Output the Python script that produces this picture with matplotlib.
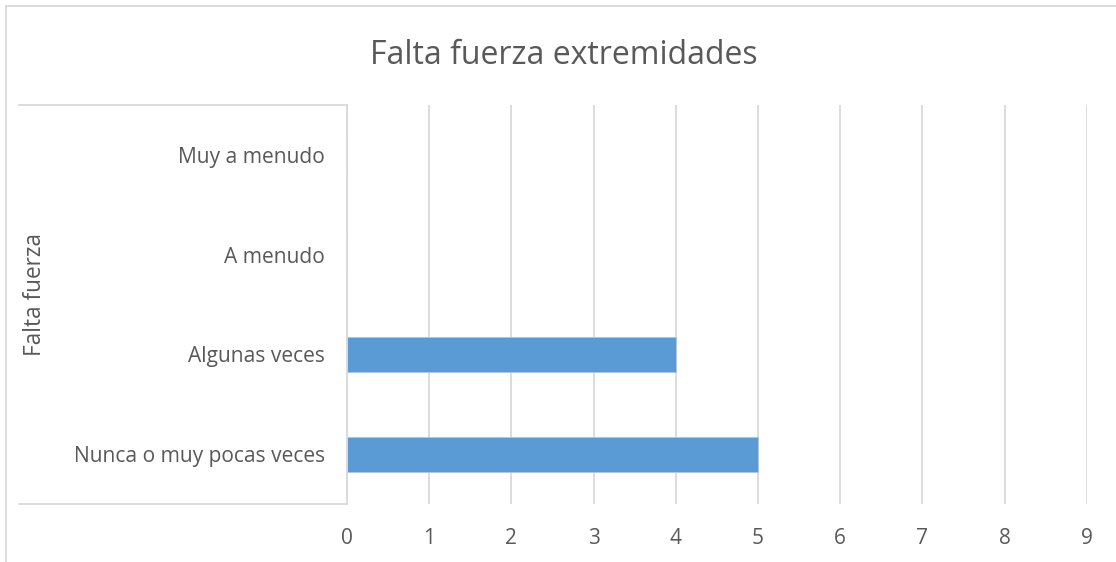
import matplotlib
matplotlib.use("Agg")
import matplotlib.pyplot as plt
from matplotlib.lines import Line2D

categories = ["Nunca o muy pocas veces", "Algunas veces", "A menudo", "Muy a menudo"]
values = [5, 4, 0, 0]
x_ticks = [0, 1, 2, 3, 4, 5, 6, 7, 8, 9]
title = "Falta fuerza extremidades"
group_label = "Falta fuerza"

text_color = "#595959"
grid_color = "#D9D9D9"
bar_color = "#5B9BD5"

plt.rcParams["font.family"] = ["Open Sans", "DejaVu Sans"]

W, H = 1116, 562
fig = plt.figure(figsize=(W / 100, H / 100), dpi=100)

# plot area in pixel coordinates
left_px, right_px, top_px, bottom_px = 347, 1086.7, 105, 504
ax = fig.add_axes([left_px / W, 1 - bottom_px / H,
                   (right_px - left_px) / W, (bottom_px - top_px) / H])

ypos = list(range(len(categories)))
ax.barh(ypos, values, height=0.35, color=bar_color, edgecolor="#A9C8EA", linewidth=0.6, zorder=3)

ax.set_xlim(0, 9)
ax.set_ylim(-0.5, len(categories) - 0.5)
ax.set_xticks(x_ticks)
ax.set_xticklabels([str(t) for t in x_ticks])
ax.set_yticks(ypos)
ax.set_yticklabels(categories)
ax.tick_params(axis="x", length=0, pad=17, labelsize=15, labelcolor=text_color)
ax.tick_params(axis="y", length=0, pad=16, labelsize=15.1, labelcolor=text_color)

ax.grid(axis="x", color=grid_color, linewidth=1.3, zorder=0)
ax.grid(axis="y", visible=False)
for side in ["top", "right", "bottom"]:
    ax.spines[side].set_visible(False)
ax.spines["left"].set_color(grid_color)
ax.spines["left"].set_linewidth(1.3)
ax.spines["left"].set_zorder(4)

# bracket around the category labels
def px_line(x0, y0, x1, y1, lw=1.3):
    fig.add_artist(Line2D([x0 / W, x1 / W], [1 - y0 / H, 1 - y1 / H],
                          transform=fig.transFigure, color=grid_color, linewidth=lw))

px_line(19, top_px, left_px, top_px)
px_line(19, bottom_px, left_px, bottom_px)

# chart frame (top and left edges)
px_line(6, 6, W, 6)
px_line(6, 6, 6, H)

fig.text(564 / W, 1 - 55 / H, title, ha="center", va="center",
         fontsize=23, color=text_color)
fig.text(35 / W, 1 - 295 / H, group_label, ha="center", va="center",
         rotation=90, fontsize=16.3, color=text_color)

fig.savefig("out.png", dpi=100, facecolor="white")
